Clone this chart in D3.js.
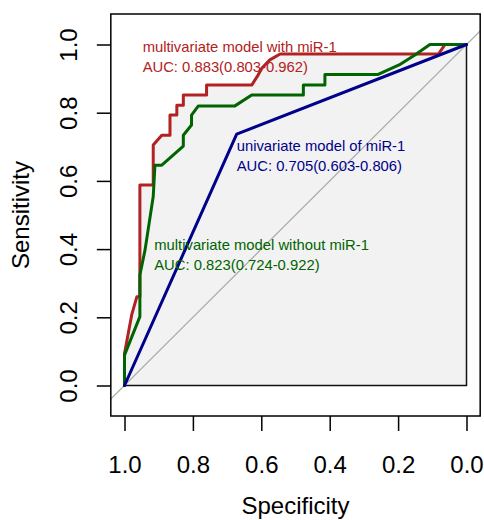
<!DOCTYPE html>
<html>
<head>
<meta charset="utf-8">
<script src="https://cdn.jsdelivr.net/npm/d3@7"></script>
<style>
  body { margin: 0; background: #fff; }
  svg { display: block; font-family: "Liberation Sans", Arial, Helvetica, sans-serif; }
</style>
</head>
<body>
<svg id="chart" width="484" height="520"></svg>
<script>
// ROC curves: [specificity, sensitivity]
const withMiR1 = [
  [1, 0], [1, 0.094], [0.979, 0.207], [0.964, 0.26], [0.955, 0.26], [0.955, 0.588],
  [0.916, 0.588], [0.916, 0.705], [0.891, 0.734], [0.867, 0.734], [0.867, 0.793],
  [0.847, 0.793], [0.847, 0.822], [0.828, 0.822], [0.828, 0.852], [0.76, 0.852],
  [0.76, 0.881], [0.628, 0.881], [0.609, 0.911], [0.598, 0.931], [0.575, 0.955],
  [0.545, 0.972], [0.082, 0.972], [0.063, 1], [0, 1]
];
const withoutMiR1 = [
  [1, 0], [1, 0.089], [0.955, 0.202], [0.955, 0.324], [0.94, 0.397], [0.916, 0.554],
  [0.911, 0.646], [0.891, 0.646], [0.828, 0.702], [0.828, 0.734], [0.804, 0.764],
  [0.804, 0.793], [0.784, 0.82], [0.677, 0.82], [0.628, 0.852], [0.477, 0.852],
  [0.477, 0.881], [0.414, 0.881], [0.414, 0.912], [0.26, 0.912], [0.197, 0.94],
  [0.151, 0.969], [0.107, 1], [0, 1]
];
const univariate = [[1, 0], [0.672, 0.737], [0, 1]];

const curveNames = ['multivariate model with miR-1', 'multivariate model without miR-1', 'univariate model of miR-1'];
const aucLabels = ['AUC: 0.883(0.803-0.962)', 'AUC: 0.823(0.724-0.922)', 'AUC: 0.705(0.603-0.806)'];
const ticks = [1.0, 0.8, 0.6, 0.4, 0.2, 0.0];

const svg = d3.select('#chart');

const x = d3.scaleLinear().domain([1, 0]).range([124.5, 466.5]);
const y = d3.scaleLinear().domain([0, 1]).range([385.5, 44.5]);

// plot region (R extends the usr range a bit, y more because asp = 1)
const region = { left: x(1.04), right: x(-0.04), top: 14, bottom: 416 };

svg.append('clipPath').attr('id', 'clip')
  .append('rect')
  .attr('x', region.left).attr('y', region.top)
  .attr('width', region.right - region.left)
  .attr('height', region.bottom - region.top);

const line = d3.line().x(d => x(d[0])).y(d => y(d[1]));

// auc polygon under the first curve
svg.append('path')
  .attr('d', line(withMiR1.concat([[0, 0]])) + 'Z')
  .attr('fill', '#f2f2f2')
  .attr('stroke', '#111')
  .attr('stroke-width', 1.5);

// chance diagonal
svg.append('line')
  .attr('clip-path', 'url(#clip)')
  .attr('x1', x(1.1)).attr('y1', y(-0.1))
  .attr('x2', x(-0.1)).attr('y2', y(1.1))
  .attr('stroke', '#aaa')
  .attr('stroke-width', 1.2);

const series = [
  { pts: withMiR1, color: '#b22222' },
  { pts: withoutMiR1, color: '#006400' },
  { pts: univariate, color: '#00008b' }
];

svg.append('g').selectAll('path').data(series).join('path')
  .attr('d', d => line(d.pts))
  .attr('fill', 'none')
  .attr('stroke', d => d.color)
  .attr('stroke-width', 3)
  .attr('stroke-linejoin', 'round')
  .attr('stroke-linecap', 'round');

// box
svg.append('rect')
  .attr('x', region.left).attr('y', region.top)
  .attr('width', region.right - region.left)
  .attr('height', region.bottom - region.top)
  .attr('fill', 'none')
  .attr('stroke', '#000')
  .attr('stroke-width', 1.5);

// axes
const xAxis = svg.append('g')
  .attr('transform', `translate(0,${region.bottom})`)
  .call(d3.axisBottom(x).tickValues(ticks).tickFormat(d3.format('.1f')).tickSize(15).tickSizeOuter(0));
xAxis.select('.domain').remove();
xAxis.selectAll('.tick line').attr('stroke-width', 1.5);
xAxis.selectAll('.tick text')
  .attr('y', 57).attr('dy', null)
  .attr('font-size', 24).attr('font-family', null).attr('fill', '#000');

const yAxis = svg.append('g')
  .attr('transform', `translate(${region.left},0)`)
  .call(d3.axisLeft(y).tickValues(ticks).tickFormat(d3.format('.1f')).tickSize(14).tickSizeOuter(0));
yAxis.select('.domain').remove();
yAxis.selectAll('.tick line').attr('stroke-width', 1.5);
yAxis.selectAll('.tick text')
  .attr('x', null).attr('dy', null)
  .attr('transform', 'translate(-34,0) rotate(-90)')
  .attr('text-anchor', 'middle')
  .attr('font-size', 24).attr('font-family', null).attr('fill', '#000');

// axis titles
svg.append('text')
  .attr('x', (region.left + region.right) / 2).attr('y', 514)
  .attr('text-anchor', 'middle').attr('font-size', 24)
  .text('Specificity');

svg.append('text')
  .attr('transform', `translate(29,${(region.top + region.bottom) / 2}) rotate(-90)`)
  .attr('text-anchor', 'middle').attr('font-size', 24)
  .text('Sensitivity');

// curve labels
const labelAt = [
  { sx: 0.947, sy: 0.978 },
  { sx: 0.913, sy: 0.397 },
  { sx: 0.672, sy: 0.688 }
];
series.forEach((s, i) => {
  const t = svg.append('text')
    .attr('x', x(labelAt[i].sx)).attr('y', y(labelAt[i].sy))
    .attr('font-size', 14.8).attr('fill', s.color);
  t.append('tspan').attr('x', x(labelAt[i].sx)).text(curveNames[i]);
  t.append('tspan').attr('x', x(labelAt[i].sx)).attr('dy', 20).text(aucLabels[i]);
});
</script>
</body>
</html>
